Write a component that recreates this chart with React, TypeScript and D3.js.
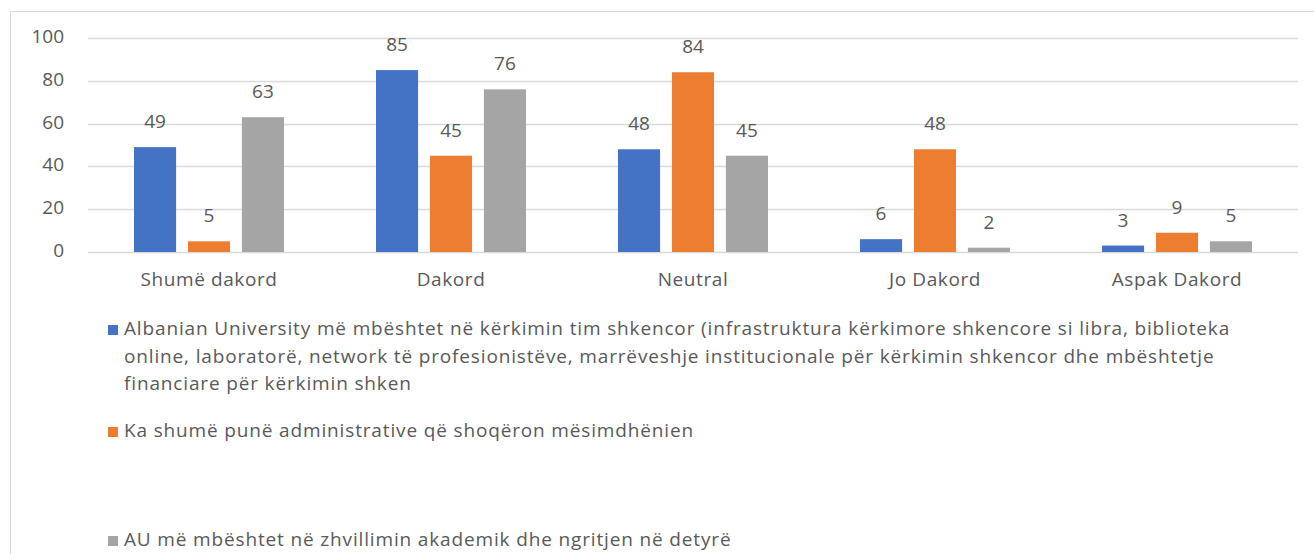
import { useEffect, useRef } from 'react'
import * as d3 from 'd3'

const CATEGORIES = ['Shumë dakord', 'Dakord', 'Neutral', 'Jo Dakord', 'Aspak Dakord']
const SERIES_NAMES = ['s1', 's2', 's3']
const S1_VALUES = [49, 85, 48, 6, 3]
const S2_VALUES = [5, 45, 84, 48, 9]
const S3_VALUES = [63, 76, 45, 2, 5]
const Y_TICKS = [0, 20, 40, 60, 80, 100]
const LEGEND_S1 = [
  'Albanian University më mbështet në kërkimin tim shkencor (infrastruktura kërkimore shkencore si libra, biblioteka',
  'online, laboratorë, network të profesionistëve, marrëveshje institucionale për kërkimin shkencor dhe mbështetje',
  'financiare për kërkimin shken',
]
const LEGEND_S2 = ['Ka shumë punë administrative që shoqëron mësimdhënien']
const LEGEND_S3 = ['AU më mbështet në zhvillimin akademik dhe ngritjen në detyrë']

const COLORS = ['#4472C4', '#ED7D31', '#A5A5A5']
const TEXT = '#595959'
const FONT = '"Open Sans", "Noto Sans", sans-serif'

export default function App() {
  const svgRef = useRef<SVGSVGElement | null>(null)

  useEffect(() => {
    if (!svgRef.current) return
    const W = 1314
    const H = 554
    const svg = d3.select(svgRef.current)
    svg.selectAll('*').remove()
    svg.attr('width', W).attr('height', H)

    svg.append('rect').attr('width', W).attr('height', H).attr('fill', '#fff')

    // frame of the chart area, runs off right and bottom
    svg.append('rect')
      .attr('x', 10.5).attr('y', 11.5).attr('width', W).attr('height', H)
      .attr('fill', 'none').attr('stroke', '#D9D9D9')

    const left = 88, right = 1298, top = 38, bottom = 252
    const x = d3.scaleBand().domain(CATEGORIES).range([left, right])
    const y = d3.scaleLinear().domain([0, 100]).range([bottom, top])

    // grid
    svg.append('g').selectAll('line')
      .data(Y_TICKS).enter().append('line')
      .attr('x1', left).attr('x2', right)
      .attr('y1', d => Math.round(y(d)) + 0.5).attr('y2', d => Math.round(y(d)) + 0.5)
      .attr('stroke', '#D9D9D9').attr('stroke-width', 1.5)

    // y labels
    svg.append('g').selectAll('text')
      .data(Y_TICKS).enter().append('text')
      .attr('x', 64).attr('y', d => y(d))
      .attr('text-anchor', 'end').attr('dominant-baseline', 'middle')
      .attr('fill', TEXT).attr('font-size', '19px').attr('font-family', FONT)
      .text(d => d)

    // x labels
    svg.append('g').selectAll('text')
      .data(CATEGORIES).enter().append('text')
      .attr('x', d => (x(d) ?? 0) + x.bandwidth() / 2).attr('y', 281)
      .attr('text-anchor', 'middle').attr('dominant-baseline', 'middle')
      .attr('fill', TEXT).attr('font-size', '19px').attr('font-family', FONT)
      .attr('letter-spacing', '0.6px')
      .text(d => d)

    // grouped bars + value labels
    const groupW = 150
    const inner = d3.scaleBand().domain(SERIES_NAMES).range([0, groupW]).paddingInner(0.22)
    const allSeries = [S1_VALUES, S2_VALUES, S3_VALUES]

    allSeries.forEach((vals, si) => {
      vals.forEach((v, ci) => {
        const bx = (x(CATEGORIES[ci]) ?? 0) + (x.bandwidth() - groupW) / 2 + (inner(SERIES_NAMES[si]) ?? 0)
        svg.append('rect')
          .attr('x', bx).attr('y', y(v))
          .attr('width', inner.bandwidth()).attr('height', y(0) - y(v))
          .attr('fill', COLORS[si])
        svg.append('text')
          .attr('x', bx + inner.bandwidth() / 2).attr('y', y(v) - 24)
          .attr('text-anchor', 'middle').attr('dominant-baseline', 'middle')
          .attr('fill', TEXT).attr('font-size', '19px').attr('font-family', FONT)
          .text(v)
      })
    })

    // legend
    const legend = [
      { lines: LEGEND_S1, y: 330 },
      { lines: LEGEND_S2, y: 432 },
      { lines: LEGEND_S3, y: 541 },
    ]
    legend.forEach((item, i) => {
      svg.append('rect')
        .attr('x', 108).attr('y', item.y - 5).attr('width', 10).attr('height', 10)
        .attr('fill', COLORS[i])
      item.lines.forEach((line, li) => {
        svg.append('text')
          .attr('x', 124).attr('y', item.y + li * 27.5)
          .attr('dominant-baseline', 'middle')
          .attr('fill', TEXT).attr('font-size', '19px').attr('font-family', FONT)
          .attr('letter-spacing', '0.85px')
          .text(line)
      })
    })
  }, [])

  return (
    <div style={{ position: 'absolute', left: 0, top: 0 }}>
      <svg ref={svgRef} style={{ display: 'block' }} />
    </div>
  )
}
